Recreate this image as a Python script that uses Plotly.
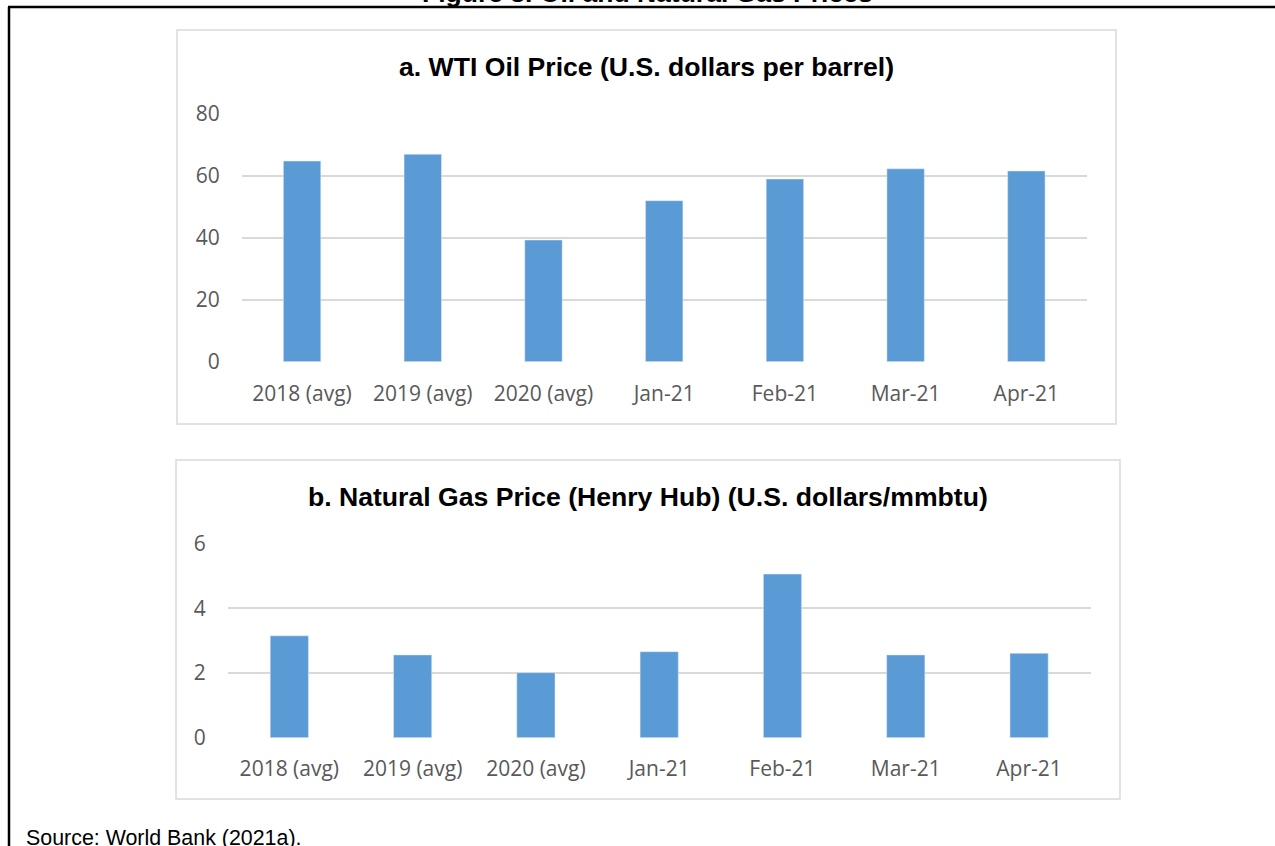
import plotly.graph_objects as go

W, H = 1275, 846

categories = ["2018 (avg)", "2019 (avg)", "2020 (avg)", "Jan-21", "Feb-21", "Mar-21", "Apr-21"]
oil_price = [64.8, 67.0, 39.3, 52.0, 59.0, 62.3, 61.6]
gas_price = [3.15, 2.56, 2.01, 2.66, 5.06, 2.56, 2.61]

oil_ticks = [0, 20, 40, 60, 80]
gas_ticks = [0, 2, 4, 6]

BAR = "#5b9bd5"
GRID = "#d9d9d9"
TICK = "#595959"
TITLE_FONT = "Arial, Liberation Sans, sans-serif"
TICK_FONT = "Open Sans, sans-serif"


def px(x):
    return x / W


def py(y):
    return 1 - y / H


fig = go.Figure()

fig.add_trace(go.Bar(x=categories, y=oil_price, marker_color=BAR,
                     xaxis="x", yaxis="y", hoverinfo="x+y"))
fig.add_trace(go.Bar(x=categories, y=gas_price, marker_color=BAR,
                     xaxis="x2", yaxis="y2", hoverinfo="x+y"))

axis_common = dict(showline=False, zeroline=False, fixedrange=True)
xfont = dict(family=TICK_FONT, size=21, color=TICK)

fig.update_layout(
    width=W, height=H,
    margin=dict(l=0, r=0, t=0, b=0, autoexpand=False),
    paper_bgcolor="white", plot_bgcolor="white",
    showlegend=False,
    bargap=0.69,
    xaxis=dict(domain=[px(241.7), px(1086.7)], anchor="y", showgrid=False,
               tickfont=xfont, ticklabelstandoff=17, **axis_common),
    yaxis=dict(domain=[py(361.7), py(114)], anchor="x", range=[0, 80],
               tickvals=oil_ticks, showgrid=True, gridcolor=GRID, gridwidth=1.5,
               tickfont=xfont, ticklabelstandoff=21, **axis_common),
    xaxis2=dict(domain=[px(227.7), px(1090.7)], anchor="y2", showgrid=False,
                tickfont=xfont, ticklabelstandoff=16, **axis_common),
    yaxis2=dict(domain=[py(737.7), py(543.7)], anchor="x2", range=[0, 6],
                tickvals=gas_ticks, showgrid=True, gridcolor=GRID, gridwidth=1.5,
                tickfont=xfont, ticklabelstandoff=21, **axis_common),
)

# outer figure frame (top and left edges) and the two panel boxes
fig.add_shape(type="line", xref="paper", yref="paper",
              x0=px(8), x1=1, y0=py(7), y1=py(7), line=dict(color="black", width=2.5))
fig.add_shape(type="line", xref="paper", yref="paper",
              x0=px(9), x1=px(9), y0=py(7), y1=0, line=dict(color="black", width=2.5))
fig.add_shape(type="rect", xref="paper", yref="paper",
              x0=px(177), x1=px(1116), y0=py(424), y1=py(30),
              line=dict(color=GRID, width=1.5), layer="below")
fig.add_shape(type="rect", xref="paper", yref="paper",
              x0=px(176), x1=px(1120), y0=py(799), y1=py(460),
              line=dict(color=GRID, width=1.5), layer="below")

# titles and source note
fig.add_annotation(text="<b>Figure 3. Oil and Natural Gas Prices</b>", xref="paper", yref="paper",
                   x=px(647), y=py(10), xanchor="center", yanchor="bottom", showarrow=False,
                   font=dict(family=TITLE_FONT, size=26.5, color="black"))
fig.add_annotation(text="<b>a. WTI Oil Price (U.S. dollars per barrel)</b>", xref="paper", yref="paper",
                   x=px(646), y=py(67), xanchor="center", yanchor="middle", showarrow=False,
                   font=dict(family=TITLE_FONT, size=26.6, color="black"))
fig.add_annotation(text="<b>b. Natural Gas Price (Henry Hub) (U.S. dollars/mmbtu)</b>", xref="paper",
                   yref="paper", x=px(648), y=py(497), xanchor="center", yanchor="middle",
                   showarrow=False, font=dict(family=TITLE_FONT, size=26.6, color="black"))
fig.add_annotation(text="Source: World Bank (2021a).", xref="paper", yref="paper",
                   x=px(24), y=py(838), xanchor="left", yanchor="middle", showarrow=False,
                   font=dict(family=TITLE_FONT, size=21.4, color="black"))

fig.write_html("out.html", config={"displayModeBar": False},
               post_script="document.body.style.margin = '0';")
